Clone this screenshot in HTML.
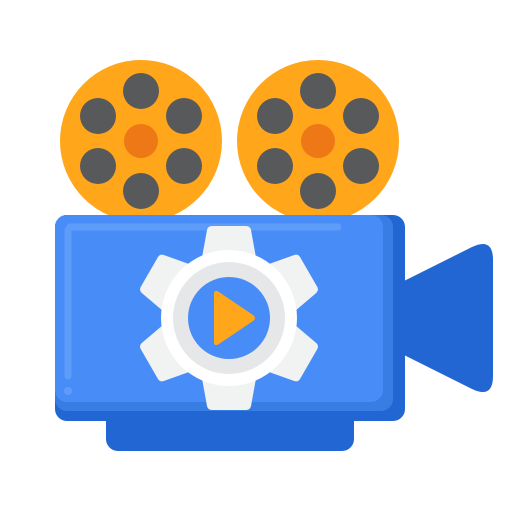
<!DOCTYPE html>
<html><head><style>html,body{margin:0;padding:0;background:#fff}svg{display:block}</style></head>
<body>
<svg width="512" height="512" viewBox="0 0 512 512" xmlns="http://www.w3.org/2000/svg">
<defs>
<g id="reel">
<circle r="81" fill="#FFA61B"/>
<circle cx="0" cy="-50" r="18" fill="#58595B"/>
<circle cx="0" cy="50" r="18" fill="#58595B"/>
<circle cx="-43" cy="-25" r="18" fill="#58595B"/>
<circle cx="43" cy="-25" r="18" fill="#58595B"/>
<circle cx="-43" cy="25" r="18" fill="#58595B"/>
<circle cx="43" cy="25" r="18" fill="#58595B"/>
<circle r="17" fill="#EE7716"/>
</g>
<path id="tooth" d="M-17,-92 L17,-92 Q21,-92 22,-88 L28,-55 L-28,-55 L-22,-88 Q-21,-92 -17,-92 Z" fill="#F1F2F2"/>
</defs>
<use href="#reel" x="141" y="141"/>
<use href="#reel" x="318" y="141"/>
<rect x="106" y="395" width="248" height="56" rx="12" fill="#2266D3"/>
<path d="M404,281 L472,247 Q493,237 493,260 L493,376 Q493,399 472,389 L404,355 Z" fill="#2266D3"/>
<rect x="55" y="215" width="350" height="206" rx="12" fill="#2266D3"/>
<rect x="55" y="215" width="338" height="196" rx="12" fill="#387DE4"/>
<rect x="55" y="215" width="328" height="187" rx="12" fill="#478CF7"/>
<line x1="70" y1="227" x2="338" y2="227" stroke="#5E9CF9" stroke-width="7" stroke-linecap="round"/>
<line x1="68" y1="230" x2="68" y2="376" stroke="#5E9CF9" stroke-width="7" stroke-linecap="round"/>
<circle cx="68" cy="391" r="4" fill="#5E9CF9"/>
<g transform="translate(229,318)">
<use href="#tooth"/>
<use href="#tooth" transform="rotate(60)"/>
<use href="#tooth" transform="rotate(120)"/>
<use href="#tooth" transform="rotate(180)"/>
<use href="#tooth" transform="rotate(240)"/>
<use href="#tooth" transform="rotate(300)"/>
<circle r="68" fill="#FFFFFF"/>
<circle r="56" fill="#E6E7E8"/>
<circle r="41" fill="#478CF7"/>
<path d="M-15,-24 Q-15,-29 -10,-26 L24,-3 Q28,0 24,3 L-10,26 Q-15,29 -15,24 Z" fill="#FFA61B"/>
</g>
</svg>
</body></html>
